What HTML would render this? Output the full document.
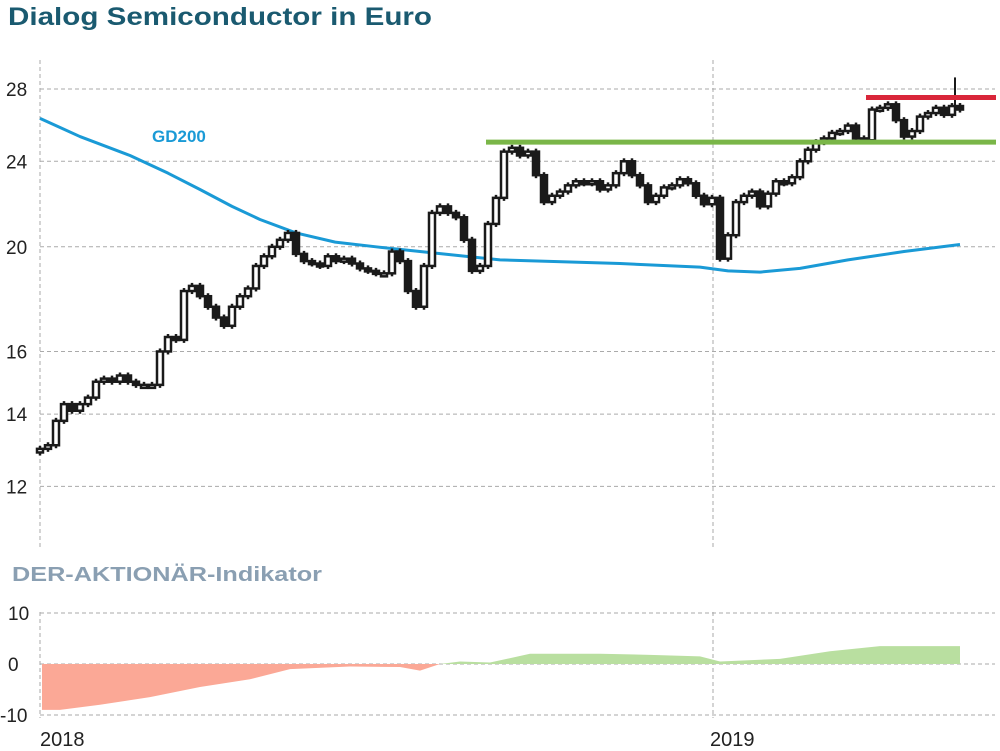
<!DOCTYPE html>
<html><head><meta charset="utf-8"><style>
html,body{margin:0;padding:0;background:#fff;width:1000px;height:751px;overflow:hidden}
svg{display:block}
</style></head><body>
<svg width="1000" height="751" viewBox="0 0 1000 751" font-family="'Liberation Sans', sans-serif">
<text x="8" y="25" font-size="25" font-weight="bold" fill="#1a5a70" textLength="424" lengthAdjust="spacingAndGlyphs">Dialog Semiconductor in Euro</text>
<text x="12" y="581" font-size="20" font-weight="bold" fill="#8a9fb2" textLength="310" lengthAdjust="spacingAndGlyphs">DER-AKTIONÄR-Indikator</text>
<g id="grid"></g>
<g id="gd"></g>
<g id="candles"></g>
<g id="levels"></g>
<g id="ind"></g>
<text x="152" y="142" font-size="17" font-weight="bold" fill="#1a9ad6">GD200</text>
</svg>
<script>
const priceTicks=[28,24,20,16,14,12];
const closes=[13.0,13.1,13.8,14.3,14.1,14.3,14.5,15.0,15.1,15.0,15.2,15.0,14.9,14.9,14.9,16.0,16.5,16.4,18.2,18.4,18.0,17.6,17.2,16.9,17.6,18.0,18.3,19.2,19.6,20.0,20.3,20.6,19.7,19.4,19.3,19.2,19.6,19.4,19.5,19.3,19.1,19.0,18.9,18.9,19.8,19.4,18.2,17.6,19.2,21.5,21.8,21.5,21.3,20.3,19.0,19.2,21.0,22.2,24.5,24.7,24.3,24.5,23.3,22.0,22.3,22.5,22.8,23.0,22.9,23.0,22.6,22.8,23.4,24.0,23.3,22.8,22.0,22.3,22.7,22.8,23.1,22.9,22.3,21.9,22.2,19.5,20.5,22.0,22.3,22.5,21.8,22.4,23.0,22.9,23.2,24.0,24.6,25.0,25.2,25.5,25.6,25.9,25.2,25.1,26.8,26.9,27.1,26.2,25.3,25.6,26.4,26.6,26.9,26.5,27.0,26.8];
const gdIdx=[0,5,11.25,16,20,24,27.5,32,36.9,42,47.5,57.5,72.5,82.5,86,90,95,101,108,115];
const gdVal=[26.3,25.3,24.3,23.4,22.6,21.8,21.2,20.6,20.2,20.0,19.8,19.45,19.3,19.15,19.0,18.95,19.1,19.45,19.8,20.1];
const indX=[42,60,100,150,200,250,290,350,400,420,440,460,490,530,600,650,700,720,780,830,880,960];
const indVal=[-9,-9,-8,-6.5,-4.5,-3,-1,-0.5,-0.6,-1.3,0,0.5,0.3,2,2,1.8,1.5,0.5,1,2.5,3.5,3.5];
const indTicks=[10,0,-10];
const resistance=27.5, support=25.0;
const NS="http://www.w3.org/2000/svg";
function py(v){return 89+(Math.log(28)-Math.log(v))*469;}
function px(i){return 40+8*i;}
function iy(v){return 664-v*5.1;}
function mk(t,a,p){const e=document.createElementNS(NS,t);for(const k in a)e.setAttribute(k,a[k]);p.appendChild(e);return e;}
const grid=document.getElementById('grid');
priceTicks.forEach(t=>{
 const l=mk('line',{x1:40,x2:995,y1:py(t),y2:py(t),stroke:'#aaa','stroke-dasharray':'4,3','stroke-width':1},grid);
 
 
 const tx=mk('text',{x:6,y:py(t)+7,'font-size':19,fill:'#222'},grid);tx.textContent=t;
 
 
});
[40,713].forEach(x=>{
 const l=mk('line',{x1:x,x2:x,y1:60,y2:548,stroke:'#aaa','stroke-dasharray':'4,3'},grid);
 
 
 const l2=mk('line',{x1:x,x2:x,y1:612,y2:718,stroke:'#aaa','stroke-dasharray':'4,3'},grid);
 
 
});
indTicks.forEach(t=>{
 const l=mk('line',{x1:40,x2:995,y1:iy(t),y2:iy(t),stroke:'#aaa','stroke-dasharray':'4,3'},grid);
 
 
 const tx=mk('text',{x:t<0?0:8,y:iy(t)+7,'font-size':19,fill:'#222'},grid);tx.textContent=t;
 
 
});
[['2018',40],['2019',710]].forEach(([s,x])=>{
 const tx=mk('text',{x:x,y:746,'font-size':20,fill:'#222'},grid);tx.textContent=s;
 
 
});
const gd=document.getElementById('gd');
const gp=mk('polyline',{points:gdIdx.map((i,k)=>px(i)+','+py(gdVal[k])).join(' '),fill:'none',stroke:'#1a9ad6','stroke-width':3,'stroke-linejoin':'round'},gd);


const cg=document.getElementById('candles');
closes.forEach((c,i)=>{
 const o=i?closes[i-1]:c-0.1;const x=px(i);
 const top=py(Math.max(o,c)),bot=py(Math.min(o,c));
 const w=mk('line',{x1:x,x2:x,y1:top-3,y2:bot+3,stroke:'#1a1a1a','stroke-width':2.5},cg);
 
 
 const r=mk('rect',{x:x-3,y:top,width:6,height:Math.max(3,bot-top),fill:c>=o?'#fff':'#1a1a1a',stroke:'#1a1a1a','stroke-width':2.5},cg);
 
 
});
const sp=mk('line',{x1:955,x2:955,y1:py(28.7),y2:py(27),stroke:'#1a1a1a','stroke-width':2},cg);


const lv=document.getElementById('levels');
const rl=mk('line',{x1:866,x2:996,y1:py(resistance),y2:py(resistance),stroke:'#d9263a','stroke-width':5},lv);


const sl=mk('line',{x1:486,x2:996,y1:py(support),y2:py(support),stroke:'#7ab648','stroke-width':5},lv);


const ig=document.getElementById('ind');
const defs=mk('defs',{},ig);
const c1=mk('clipPath',{id:'pos'},defs);mk('rect',{x:0,y:0,width:1000,height:664},c1);
const c2=mk('clipPath',{id:'neg'},defs);mk('rect',{x:0,y:664,width:1000,height:100},c2);
const pts=indX.map((x,k)=>x+','+iy(indVal[k])).join(' ');
const poly=indX[0]+','+iy(0)+' '+pts+' '+indX[indX.length-1]+','+iy(0);
const pa=mk('polygon',{points:poly,fill:'#b9dfa0','clip-path':'url(#pos)'},ig);


const na=mk('polygon',{points:poly,fill:'#fba896','clip-path':'url(#neg)'},ig);


</script>
</body></html>
